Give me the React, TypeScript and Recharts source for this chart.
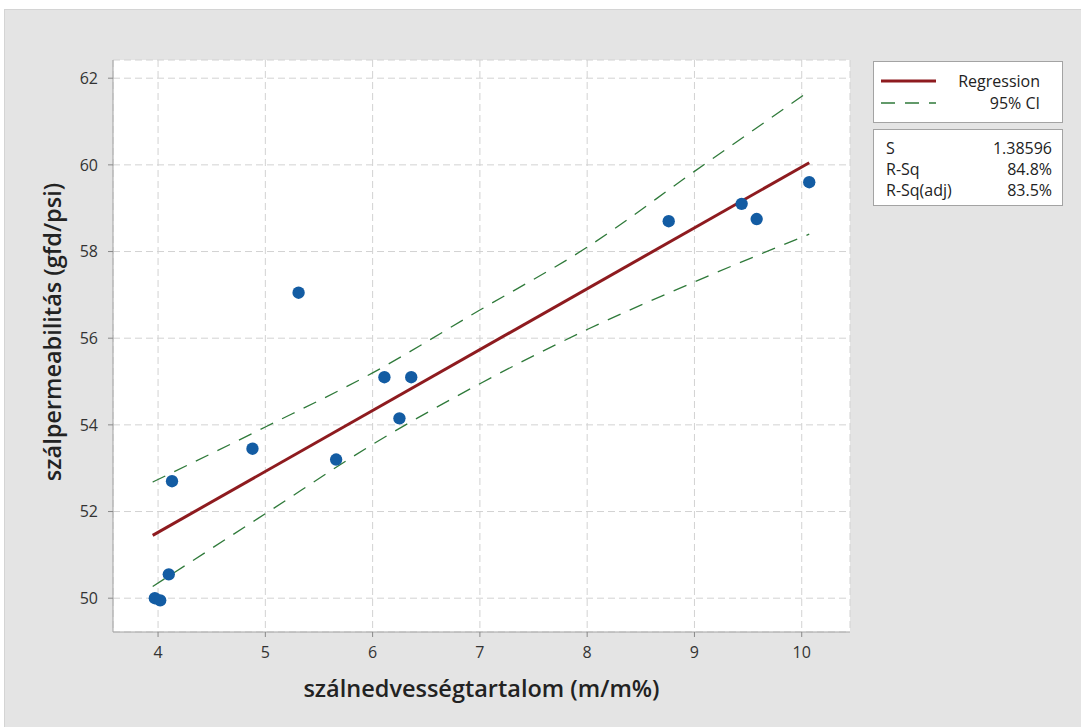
import * as React from "react";
import {
  ComposedChart,
  Line,
  Scatter,
  XAxis,
  YAxis,
  ZAxis,
  CartesianGrid,
  Legend,
} from "recharts";

// observed points (x: moisture m/m%, y: permeability gfd/psi)
const moisture = [3.97, 4.02, 4.1, 4.13, 4.88, 5.31, 5.66, 6.11, 6.25, 6.36, 8.76, 9.44, 9.58, 10.07];
const permeability = [50.0, 49.95, 50.55, 52.7, 53.45, 57.05, 53.2, 55.1, 54.15, 55.1, 58.7, 59.1, 58.75, 59.6];

// fitted line and 95% CI bands
const fitX = [3.95, 10.07];
const fitY = [51.45, 60.05];
const ciX = [3.95, 5, 6, 7, 8, 9, 10.07];
const ciUpper = [52.68, 53.95, 55.2, 56.65, 58.1, 59.85, 61.7];
const ciLower = [50.27, 51.95, 53.55, 54.95, 56.2, 57.3, 58.4];

const xTicks = [4, 5, 6, 7, 8, 9, 10];
const yTicks = [50, 52, 54, 56, 58, 60, 62];

const stats = [
  { label: "S", value: "1.38596" },
  { label: "R-Sq", value: "84.8%" },
  { label: "R-Sq(adj)", value: "83.5%" },
];

const points = moisture.map((x, i) => ({ x, y: permeability[i] }));
const fitData = fitX.map((x, i) => ({ x, y: fitY[i] }));
const upperData = ciX.map((x, i) => ({ x, y: ciUpper[i] }));
const lowerData = ciX.map((x, i) => ({ x, y: ciLower[i] }));

const FONT = "'Open Sans', 'Noto Sans', sans-serif";
const RED = "#8e1b1f";
const GREEN = "#2f7a3a";
const BLUE = "#135ca3";
const FRAME = "#a3a3a3";
const TITLE_STYLE = { fill: "#222", fontSize: 23.5, fontWeight: 600, fontFamily: FONT };

function LegendBoxes() {
  const box: React.CSSProperties = {
    width: 190,
    background: "#fff",
    border: `1px solid ${FRAME}`,
    fontFamily: FONT,
    fontSize: 16,
    color: "#222",
    boxSizing: "border-box",
  };
  return (
    <div>
      <div style={{ ...box, height: 62, padding: "8px 22px 0 7px" }}>
        <div style={{ display: "flex", alignItems: "center", height: 22 }}>
          <svg width={55} height={6}>
            <line x1={0} y1={3} x2={55} y2={3} stroke={RED} strokeWidth={3} />
          </svg>
          <span style={{ marginLeft: "auto" }}>Regression</span>
        </div>
        <div style={{ display: "flex", alignItems: "center", height: 22 }}>
          <svg width={55} height={6}>
            <line x1={0} y1={3} x2={55} y2={3} stroke={GREEN} strokeWidth={1.3} strokeDasharray="14 10" />
          </svg>
          <span style={{ marginLeft: "auto" }}>95% CI</span>
        </div>
      </div>
      <div style={{ ...box, height: 77, marginTop: 6, padding: "7px 10px 0 12px" }}>
        {stats.map((s) => (
          <div key={s.label} style={{ display: "flex", height: 21, alignItems: "center" }}>
            <span>{s.label}</span>
            <span style={{ marginLeft: "auto" }}>{s.value}</span>
          </div>
        ))}
      </div>
    </div>
  );
}

function YTitle(props: any) {
  const vb = props.viewBox || { x: 20, y: 60, width: 93, height: 572 };
  const x = vb.x + 41;
  const y = vb.y + vb.height / 2 - 14;
  return (
    <text x={x} y={y} transform={`rotate(-90, ${x}, ${y})`} textAnchor="middle" style={TITLE_STYLE}>
      szálpermeabilitás (gfd/psi)
    </text>
  );
}

export default function App() {
  return (
    <div style={{ position: "absolute", left: 0, top: 0, width: 1081, height: 727, background: "#fff" }}>
      <div
        style={{
          position: "absolute",
          left: 4,
          top: 9,
          width: 1077,
          height: 718,
          background: "#e4e4e4",
          borderTop: "1px solid #d4d4d4",
          borderLeft: "1px solid #d4d4d4",
          boxSizing: "border-box",
        }}
      />
      <div style={{ position: "absolute", left: 0, top: 0 }}>
        <ComposedChart
          width={1081}
          height={727}
          margin={{ top: 60, right: 231, bottom: 20, left: 20 }}
        >
          <CartesianGrid fill="#fff" stroke="#d2d2d2" strokeDasharray="7 4" />
          <XAxis
            dataKey="x"
            type="number"
            domain={[3.58, 10.45]}
            ticks={xTicks}
            allowDataOverflow
            height={75}
            tickSize={5}
            tickMargin={10}
            axisLine={{ stroke: FRAME }}
            tickLine={{ stroke: "#888" }}
            tick={{ fill: "#333", fontSize: 16, fontFamily: FONT }}
            label={{
              value: "szálnedvességtartalom (m/m%)",
              position: "insideBottom",
              offset: 10,
              style: TITLE_STYLE,
            }}
          />
          <XAxis
            xAxisId="top"
            orientation="top"
            type="number"
            domain={[0, 1]}
            height={0}
            tick={false}
            tickLine={false}
            axisLine={{ stroke: FRAME }}
          />
          <YAxis
            dataKey="y"
            type="number"
            domain={[49.22, 62.42]}
            ticks={yTicks}
            allowDataOverflow
            width={93}
            tickSize={5}
            tickMargin={10}
            axisLine={{ stroke: FRAME }}
            tickLine={{ stroke: "#888" }}
            tick={{ fill: "#333", fontSize: 16, fontFamily: FONT }}
            label={{ content: (p: any) => <YTitle {...p} /> }}
          />
          <YAxis
            yAxisId="right"
            orientation="right"
            type="number"
            domain={[0, 1]}
            width={0}
            tick={false}
            tickLine={false}
            axisLine={{ stroke: FRAME }}
          />
          <ZAxis type="number" range={[120, 120]} />
          <Legend
            layout="vertical"
            align="center"
            verticalAlign="middle"
            wrapperStyle={{ top: 61, left: 873, width: 190 }}
            content={() => <LegendBoxes />}
          />
          <Line
            data={upperData}
            dataKey="y"
            type="monotone"
            stroke={GREEN}
            strokeWidth={1.3}
            strokeDasharray="14 10"
            dot={false}
            activeDot={false}
            isAnimationActive={false}
          />
          <Line
            data={lowerData}
            dataKey="y"
            type="monotone"
            stroke={GREEN}
            strokeWidth={1.3}
            strokeDasharray="14 10"
            dot={false}
            activeDot={false}
            isAnimationActive={false}
          />
          <Line
            data={fitData}
            dataKey="y"
            type="linear"
            stroke={RED}
            strokeWidth={3}
            dot={false}
            activeDot={false}
            isAnimationActive={false}
          />
          <Scatter data={points} fill={BLUE} isAnimationActive={false} />
        </ComposedChart>
      </div>
    </div>
  );
}
